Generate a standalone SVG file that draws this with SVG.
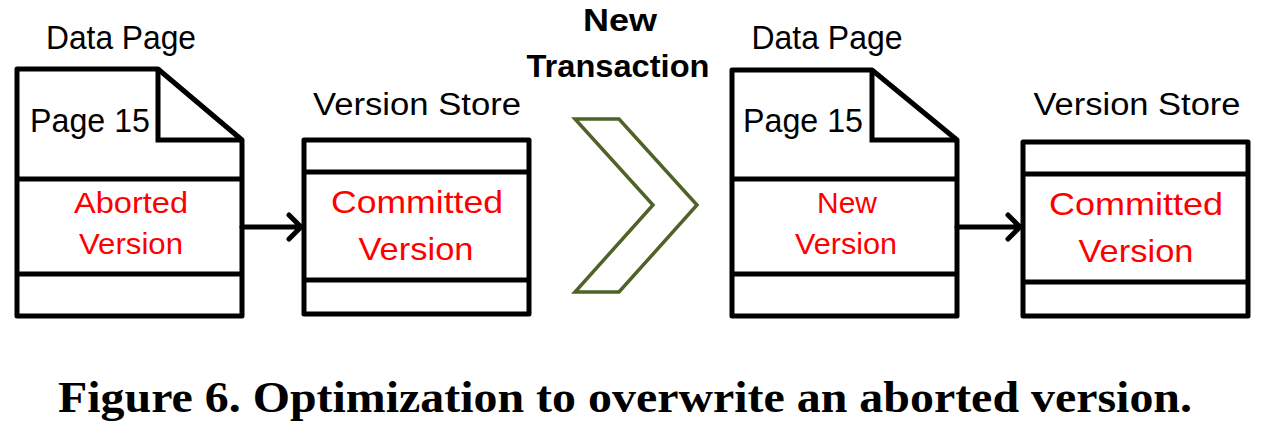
<svg xmlns="http://www.w3.org/2000/svg" width="1267" height="430" viewBox="0 0 1267 430">
<style>
.box{fill:#fff;stroke:#000;stroke-width:5;stroke-linejoin:round}
.ln{stroke:#000;stroke-width:5;fill:none}
.conn{stroke:#000;stroke-width:5;fill:none;stroke-linecap:round;stroke-linejoin:round}
.lbl{font-family:"Liberation Sans",Arial,sans-serif;fill:#000}
.red{font-family:"Liberation Sans",Arial,sans-serif;fill:#ff0000}
.cap{font-family:"Liberation Serif","Times New Roman",serif;font-weight:bold;fill:#000}
</style>
<rect width="1267" height="430" fill="#fff"/>
<g id="page-left">
<path class="box" d="M17,69 L158,69 L242,140 L242,316 L17,316 Z"/>
<path class="ln" d="M158,69 L158,140 L242,140"/>
<line class="ln" x1="17" y1="179" x2="242" y2="179"/>
<line class="ln" x1="17" y1="274" x2="242" y2="274"/>
<text class="lbl" x="121" y="49" font-size="34" text-anchor="middle" textLength="150" lengthAdjust="spacingAndGlyphs">Data Page</text>
<text class="lbl" x="30" y="132" font-size="33" textLength="120" lengthAdjust="spacingAndGlyphs">Page 15</text>
<text class="red" x="131" y="213" font-size="30" text-anchor="middle" textLength="114" lengthAdjust="spacingAndGlyphs">Aborted</text>
<text class="red" x="131" y="254" font-size="30" text-anchor="middle" textLength="104" lengthAdjust="spacingAndGlyphs">Version</text>
</g>
<g id="store-left">
<rect class="box" x="304" y="140" width="225" height="174"/>
<line class="ln" x1="304" y1="172" x2="529" y2="172"/>
<line class="ln" x1="304" y1="280" x2="529" y2="280"/>
<text class="lbl" x="417" y="115" font-size="31" text-anchor="middle" textLength="208" lengthAdjust="spacingAndGlyphs">Version Store</text>
<text class="red" x="417" y="213" font-size="32" text-anchor="middle" textLength="172" lengthAdjust="spacingAndGlyphs">Committed</text>
<text class="red" x="416" y="260" font-size="32" text-anchor="middle" textLength="115" lengthAdjust="spacingAndGlyphs">Version</text>
</g>
<g id="transition">
<polygon points="575,119 619,119 697,205 619,292 575,292 653,205" fill="#fff" stroke="#4f6228" stroke-width="3.5" stroke-linejoin="miter"/>
<text class="lbl" x="620" y="31" font-size="31" font-weight="bold" text-anchor="middle" textLength="74" lengthAdjust="spacingAndGlyphs">New</text>
<text class="lbl" x="618" y="77" font-size="31" font-weight="bold" text-anchor="middle" textLength="183" lengthAdjust="spacingAndGlyphs">Transaction</text>
</g>
<g id="page-right">
<path class="box" d="M732,70 L872,70 L957,140 L957,316 L732,316 Z"/>
<path class="ln" d="M872,70 L872,140 L957,140"/>
<line class="ln" x1="732" y1="179" x2="957" y2="179"/>
<line class="ln" x1="732" y1="274" x2="957" y2="274"/>
<text class="lbl" x="827" y="49" font-size="34" text-anchor="middle" textLength="151" lengthAdjust="spacingAndGlyphs">Data Page</text>
<text class="lbl" x="743" y="132" font-size="33" textLength="120" lengthAdjust="spacingAndGlyphs">Page 15</text>
<text class="red" x="847" y="213" font-size="30" text-anchor="middle" textLength="60" lengthAdjust="spacingAndGlyphs">New</text>
<text class="red" x="846" y="254" font-size="30" text-anchor="middle" textLength="102" lengthAdjust="spacingAndGlyphs">Version</text>
</g>
<g id="store-right">
<rect class="box" x="1023" y="142" width="225" height="174"/>
<line class="ln" x1="1023" y1="174" x2="1248" y2="174"/>
<line class="ln" x1="1023" y1="282" x2="1248" y2="282"/>
<text class="lbl" x="1137" y="115" font-size="31" text-anchor="middle" textLength="207" lengthAdjust="spacingAndGlyphs">Version Store</text>
<text class="red" x="1136" y="215" font-size="32" text-anchor="middle" textLength="174" lengthAdjust="spacingAndGlyphs">Committed</text>
<text class="red" x="1136" y="262" font-size="32" text-anchor="middle" textLength="115" lengthAdjust="spacingAndGlyphs">Version</text>
</g>
<g id="connectors">
<path class="conn" d="M242,227 L301,227 M289,215 L301,227 L289,239"/>
<path class="conn" d="M957,227 L1020,227 M1008,215 L1020,227 L1008,239"/>
</g>
<text class="cap" x="58" y="412" font-size="45" textLength="1134" lengthAdjust="spacingAndGlyphs">Figure 6. Optimization to overwrite an aborted version.</text>
</svg>
